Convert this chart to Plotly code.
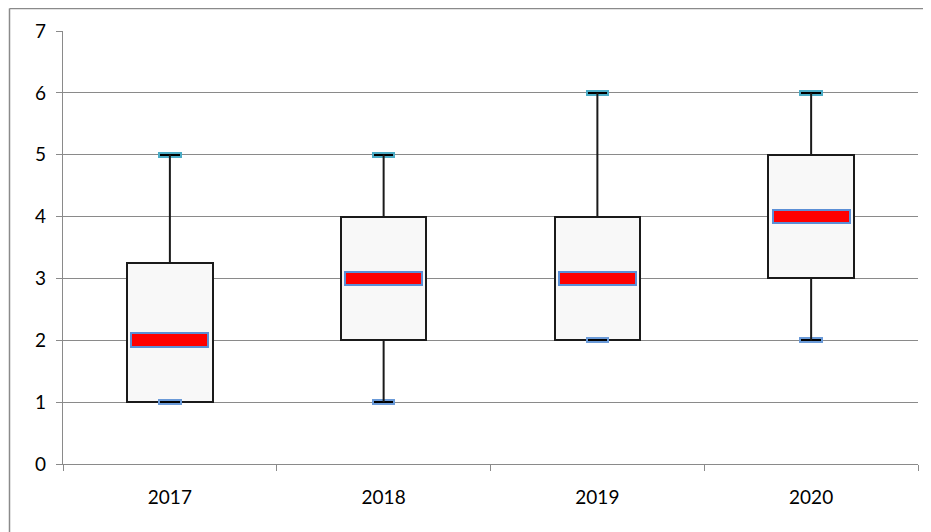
import plotly.graph_objects as go

years = ["2017", "2018", "2019", "2020"]
mins = [1, 1, 2, 2]
q1 = [1, 2, 2, 3]
medians = [2, 3, 3, 4]
q3 = [3.25, 4, 4, 5]
maxs = [5, 5, 6, 6]
y_ticks = [0, 1, 2, 3, 4, 5, 6, 7]

GRID = "#8a8a8a"
MED_H = 0.22
CAP_H = 0.07

fig = go.Figure()

# whiskers
wx, wy = [], []
for i, yr in enumerate(years):
    wx += [yr, yr, None, yr, yr, None]
    wy += [q3[i], maxs[i], None, mins[i], q1[i], None]
fig.add_trace(go.Scatter(x=wx, y=wy, mode="lines",
                         line=dict(color="#1a1a1a", width=2),
                         hoverinfo="skip", showlegend=False))

# boxes
fig.add_trace(go.Bar(x=years, y=[b - a for a, b in zip(q1, q3)], base=q1,
                     width=0.4, marker=dict(color="#f8f8f8",
                                            line=dict(color="#1a1a1a", width=2)),
                     showlegend=False))

# medians
fig.add_trace(go.Bar(x=years, y=[MED_H] * len(years),
                     base=[m - MED_H / 2 for m in medians],
                     width=0.36, marker=dict(color="#ff0000",
                                             line=dict(color="#5b8fd6", width=2)),
                     showlegend=False))

# top caps
fig.add_trace(go.Bar(x=years, y=[CAP_H] * len(years),
                     base=[m - CAP_H / 2 for m in maxs],
                     width=0.1, marker=dict(color="#000000",
                                            line=dict(color="#4bacc6", width=2)),
                     showlegend=False))

# bottom caps
fig.add_trace(go.Bar(x=years, y=[CAP_H] * len(years),
                     base=[m - CAP_H / 2 for m in mins],
                     width=0.1, marker=dict(color="#000000",
                                            line=dict(color="#6a9ad8", width=2)),
                     showlegend=False))

# outer chart frame (left and top edges visible)
L, R, T, B = 55, 21, 23, 76
pw, ph = 931 - L - R, 532 - T - B
fx0 = (1.5 - L) / pw
fy1 = (ph + T - 0.5) / ph
fig.add_shape(type="line", xref="paper", yref="paper", x0=fx0, x1=fx0,
              y0=-0.5, y1=fy1, line=dict(color=GRID, width=1.5), layer="above")
fig.add_shape(type="line", xref="paper", yref="paper", x0=fx0, x1=1.2,
              y0=fy1, y1=fy1, line=dict(color=GRID, width=1.5), layer="above")

fig.update_layout(
    width=931, height=532,
    margin=dict(l=L, r=R, t=T, b=B),
    paper_bgcolor="white", plot_bgcolor="white",
    barmode="overlay", bargap=0,
    font=dict(family="Lato, Noto Sans, sans-serif", size=19, color="#000000"),
    xaxis=dict(type="category", range=[-0.5, 3.5], tickson="boundaries",
               ticks="outside", ticklen=6, tickcolor=GRID, tickwidth=1.3,
               showline=True, linecolor=GRID, linewidth=1.3,
               showgrid=False, ticklabelstandoff=16),
    yaxis=dict(range=[0, 7], tickvals=y_ticks, ticks="outside", ticklen=6,
               tickcolor=GRID, tickwidth=1.3, showline=True, linecolor=GRID,
               linewidth=1.3, showgrid=True, gridcolor=GRID, gridwidth=1.3,
               zeroline=False, ticklabelstandoff=6),
)

fig.write_html("out.html")
